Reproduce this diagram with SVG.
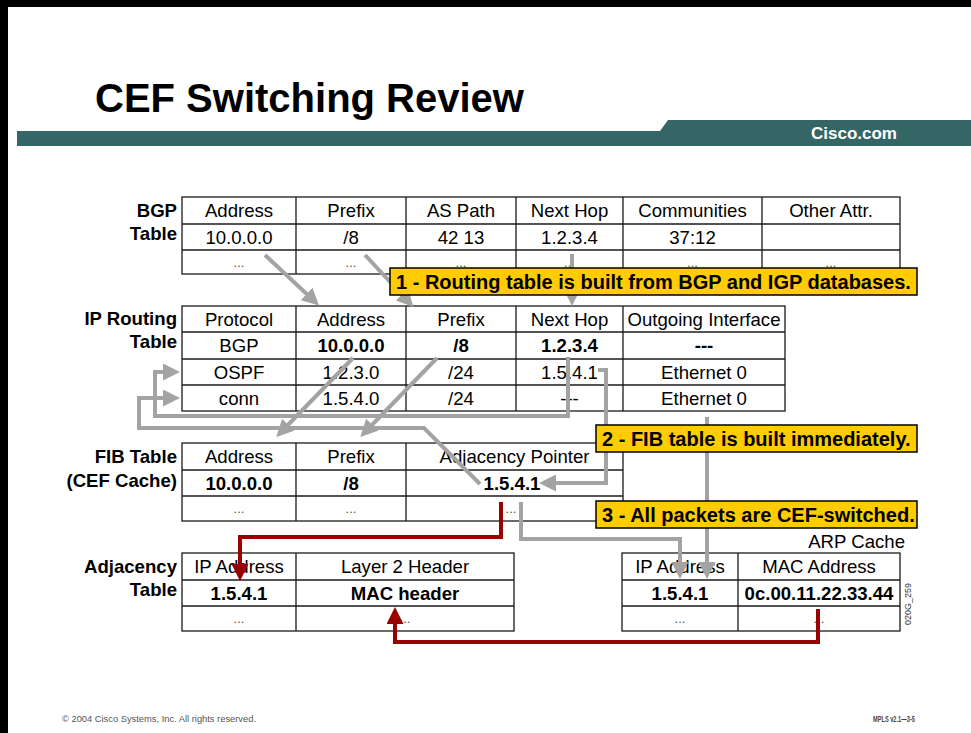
<svg xmlns="http://www.w3.org/2000/svg" width="971" height="733" viewBox="0 0 971 733">
<defs>
<style>
.t{font-family:"Liberation Sans",Arial,sans-serif;font-size:18.6px;fill:#000;text-anchor:middle}
.b{font-weight:bold}
.lbl{font-family:"Liberation Sans",Arial,sans-serif;font-size:18.6px;font-weight:bold;fill:#000;text-anchor:end}
.dots{font-family:"Liberation Sans",Arial,sans-serif;font-size:13px;fill:#555;text-anchor:middle}
.grid{fill:#fff;stroke:#1a1a1a;stroke-width:1.3}
.ln{stroke:#1a1a1a;stroke-width:1.3}
.g{fill:none;stroke:#a3a3a3;stroke-width:4}
.r{fill:none;stroke:#990000;stroke-width:4}
.co{fill:#ffcc00;stroke:#000;stroke-width:1.5}
.cot{font-family:"Liberation Sans",Arial,sans-serif;font-size:20px;font-weight:bold;fill:#000}
</style>
<marker id="ag" markerUnits="userSpaceOnUse" markerWidth="17" markerHeight="17" refX="6" refY="8.5" orient="auto" viewBox="0 0 17 17"><path d="M0,0 L17,8.5 L0,17 z" fill="#a3a3a3"/></marker>
<marker id="ar" markerUnits="userSpaceOnUse" markerWidth="17" markerHeight="17" refX="6" refY="8.5" orient="auto" viewBox="0 0 17 17"><path d="M0,0 L17,8.5 L0,17 z" fill="#990000"/></marker>
</defs>
<rect x="0" y="0" width="971" height="733" fill="#fff"/>
<rect x="0" y="0" width="971" height="7" fill="#000"/>
<rect x="0" y="0" width="8" height="733" fill="#000"/>

<g id="header">
<text x="95" y="112" font-family="'Liberation Sans',Arial,sans-serif" font-size="40" font-weight="bold" fill="#000">CEF Switching Review</text>
<polygon points="17,131 660,131 668,120 971,120 971,146 17,146" fill="#346666"/>
<text x="897" y="139" font-family="'Liberation Sans',Arial,sans-serif" font-size="17" font-weight="bold" fill="#fff" text-anchor="end">Cisco.com</text>
</g>

<g id="bgp-table">
<text class="lbl" x="177" y="217">BGP</text>
<text class="lbl" x="177" y="240">Table</text>
<rect class="grid" x="182" y="197" width="718" height="77"/>
<line class="ln" x1="182" y1="224" x2="900" y2="224"/>
<line class="ln" x1="182" y1="250" x2="900" y2="250"/>
<line class="ln" x1="296" y1="197" x2="296" y2="274"/>
<line class="ln" x1="406" y1="197" x2="406" y2="274"/>
<line class="ln" x1="516" y1="197" x2="516" y2="274"/>
<line class="ln" x1="623" y1="197" x2="623" y2="274"/>
<line class="ln" x1="762" y1="197" x2="762" y2="274"/>
<text class="t" x="239" y="217">Address</text>
<text class="t" x="351" y="217">Prefix</text>
<text class="t" x="461" y="217">AS Path</text>
<text class="t" x="569.5" y="217">Next Hop</text>
<text class="t" x="692.5" y="217">Communities</text>
<text class="t" x="831" y="217">Other Attr.</text>
<text class="t" x="239" y="243.5">10.0.0.0</text>
<text class="t" x="351" y="243.5">/8</text>
<text class="t" x="461" y="243.5">42 13</text>
<text class="t" x="569.5" y="243.5">1.2.3.4</text>
<text class="t" x="692.5" y="243.5">37:12</text>
<text class="dots" x="239" y="267">...</text>
<text class="dots" x="351" y="267">...</text>
<text class="dots" x="461" y="267">...</text>
<text class="dots" x="569.5" y="267">...</text>
<text class="dots" x="692.5" y="267">...</text>
<text class="dots" x="831" y="267">...</text>
</g>

<g id="ip-routing-table">
<text class="lbl" x="177" y="325">IP Routing</text>
<text class="lbl" x="177" y="348">Table</text>
<rect class="grid" x="182" y="306" width="603" height="105"/>
<line class="ln" x1="182" y1="332" x2="785" y2="332"/>
<line class="ln" x1="182" y1="359" x2="785" y2="359"/>
<line class="ln" x1="182" y1="385" x2="785" y2="385"/>
<line class="ln" x1="296" y1="306" x2="296" y2="411"/>
<line class="ln" x1="406" y1="306" x2="406" y2="411"/>
<line class="ln" x1="516" y1="306" x2="516" y2="411"/>
<line class="ln" x1="623" y1="306" x2="623" y2="411"/>
<text class="t" x="239" y="325.5">Protocol</text>
<text class="t" x="351" y="325.5">Address</text>
<text class="t" x="461" y="325.5">Prefix</text>
<text class="t" x="569.5" y="325.5">Next Hop</text>
<text class="t" x="704" y="325.5">Outgoing Interface</text>
<text class="t" x="239" y="352">BGP</text>
<text class="t b" x="351" y="352">10.0.0.0</text>
<text class="t b" x="461" y="352">/8</text>
<text class="t b" x="569.5" y="352">1.2.3.4</text>
<text class="t b" x="704" y="352">---</text>
<text class="t" x="239" y="378.5">OSPF</text>
<text class="t" x="351" y="378.5">1.2.3.0</text>
<text class="t" x="461" y="378.5">/24</text>
<text class="t" x="569.5" y="378.5">1.5.4.1</text>
<text class="t" x="704" y="378.5">Ethernet 0</text>
<text class="t" x="239" y="404.5">conn</text>
<text class="t" x="351" y="404.5">1.5.4.0</text>
<text class="t" x="461" y="404.5">/24</text>
<text class="t" x="569.5" y="404.5">---</text>
<text class="t" x="704" y="404.5">Ethernet 0</text>
</g>

<g id="fib-table">
<text class="lbl" x="177" y="463">FIB Table</text>
<text class="lbl" x="177" y="487">(CEF Cache)</text>
<rect class="grid" x="182" y="443" width="441" height="78"/>
<line class="ln" x1="182" y1="470" x2="623" y2="470"/>
<line class="ln" x1="182" y1="496" x2="623" y2="496"/>
<line class="ln" x1="296" y1="443" x2="296" y2="521"/>
<line class="ln" x1="406" y1="443" x2="406" y2="521"/>
<text class="t" x="239" y="463">Address</text>
<text class="t" x="351" y="463">Prefix</text>
<text class="t" x="514.5" y="463">Adjacency Pointer</text>
<text class="t b" x="239" y="489.5">10.0.0.0</text>
<text class="t b" x="351" y="489.5">/8</text>
<text class="t b" x="512" y="489.5">1.5.4.1</text>
<text class="dots" x="239" y="513">...</text>
<text class="dots" x="351" y="513">...</text>
<text class="dots" x="511" y="513">...</text>
</g>

<g id="adjacency-table">
<text class="lbl" x="177" y="573">Adjacency</text>
<text class="lbl" x="177" y="596">Table</text>
<rect class="grid" x="182" y="553" width="332" height="78"/>
<line class="ln" x1="182" y1="580" x2="514" y2="580"/>
<line class="ln" x1="182" y1="606" x2="514" y2="606"/>
<line class="ln" x1="296" y1="553" x2="296" y2="631"/>
<text class="t" x="239" y="573">IP Address</text>
<text class="t" x="405" y="573">Layer 2 Header</text>
<text class="t b" x="239" y="599.5">1.5.4.1</text>
<text class="t b" x="405" y="599.5">MAC header</text>
<text class="dots" x="239" y="623">...</text>
<text class="dots" x="405" y="623">...</text>
</g>

<g id="arp-cache">
<text class="t" x="905" y="548" text-anchor="end" style="text-anchor:end">ARP Cache</text>
<rect class="grid" x="622" y="553" width="278" height="78"/>
<line class="ln" x1="622" y1="580" x2="900" y2="580"/>
<line class="ln" x1="622" y1="606" x2="900" y2="606"/>
<line class="ln" x1="738" y1="553" x2="738" y2="631"/>
<text class="t" x="680" y="573">IP Address</text>
<text class="t" x="819" y="573">MAC Address</text>
<text class="t b" x="680" y="599.5">1.5.4.1</text>
<text class="t b" x="819" y="599.5">0c.00.11.22.33.44</text>
<text class="dots" x="680" y="623">...</text>
<text class="dots" x="819" y="623">...</text>
<text x="911" y="604" transform="rotate(-90 911 604)" font-family="'Liberation Sans',Arial,sans-serif" font-size="9" fill="#333" text-anchor="middle">020G_259</text>
</g>

<g id="connectors">
<line class="g" x1="265" y1="255" x2="311" y2="298" marker-end="url(#ag)"/>
<line class="g" x1="365" y1="255" x2="406" y2="299" marker-end="url(#ag)"/>
<line class="g" x1="572" y1="254" x2="572" y2="295" marker-end="url(#ag)"/>
<line class="g" x1="353" y1="358" x2="284" y2="429" marker-end="url(#ag)"/>
<line class="g" x1="437" y1="358" x2="368" y2="429" marker-end="url(#ag)"/>
<path class="g" d="M568,357 V416 H155 V372 H169" marker-end="url(#ag)"/>
<path class="g" d="M480,484 L424,428 H139 V398 H169" marker-end="url(#ag)"/>
<path class="g" d="M598,370 H606 V483 H550" marker-end="url(#ag)"/>
<path class="g" d="M707,417 V568" marker-end="url(#ag)"/>
<path class="g" d="M521,502 V539 H680 V568" marker-end="url(#ag)"/>
<path class="r" d="M501,502 V537 H240 V570" marker-end="url(#ar)"/>
<path class="r" d="M818,609 V642 H395 V618" marker-end="url(#ar)"/>
</g>

<g id="callout-1">
<rect class="co" x="390" y="268" width="527" height="27"/>
<text class="cot" x="396" y="289">1 - Routing table is built from BGP and IGP databases.</text>
</g>
<g id="callout-2">
<rect class="co" x="596" y="425" width="321" height="27"/>
<text class="cot" x="602" y="446">2 - FIB table is built immediately.</text>
</g>
<g id="callout-3">
<rect class="co" x="596" y="501" width="321" height="27"/>
<text class="cot" x="602" y="522">3 - All packets are CEF-switched.</text>
</g>

<g id="footer">
<text x="62" y="722" font-family="'Liberation Sans',Arial,sans-serif" font-size="9" fill="#555" textLength="194" lengthAdjust="spacingAndGlyphs">© 2004 Cisco Systems, Inc. All rights reserved.</text>
<text x="873" y="722" font-family="'Liberation Sans',Arial,sans-serif" font-size="9" font-weight="bold" fill="#444" textLength="42" lengthAdjust="spacingAndGlyphs">MPLS v2.1—3-5</text>
</g>
</svg>
